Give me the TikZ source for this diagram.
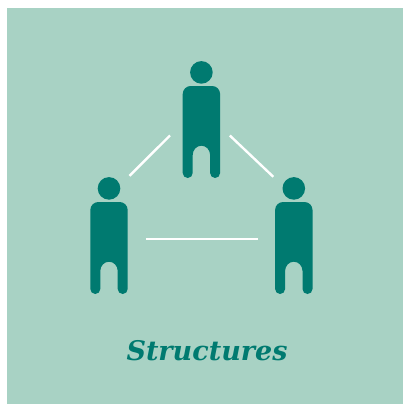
\documentclass[tikz,border=0pt]{standalone}
\usepackage{xcolor}
\usepackage{fontspec}
\setmainfont{DejaVu Serif}
\usetikzlibrary{positioning,calc}
\definecolor{panelgreen}{HTML}{a8d2c4}
\definecolor{deepteal}{HTML}{007a70}
\begin{document}
\begin{tikzpicture}[
  x=1pt, y=-1pt,
  panel/.style={fill=panelgreen, draw=none},
  link/.style={white, line width=2.4pt},
  title/.style={font=\bfseries\itshape\fontsize{27}{32}\selectfont, text=deepteal, inner sep=0pt},
  person/.pic={
    \fill[deepteal] (0,-13.6) circle (11.3);
    \fill[deepteal]
      (-18.7,8) arc[start angle=180, end angle=270, radius=8] -- (10.7,0)
      arc[start angle=270, end angle=360, radius=8] -- (18.7,87)
      arc[start angle=0, end angle=180, radius=5] -- (8.7,69)
      arc[start angle=0, end angle=-180, x radius=8.7, y radius=9.3] -- (-8.7,87)
      arc[start angle=0, end angle=180, radius=5] -- cycle;
  }
]
\useasboundingbox (0,0) rectangle (403,404);
\fill[panel] (7,8) rectangle (403,404);
\pic at (201.4,86) {person};
\pic at (109,202) {person};
\pic at (293.8,202) {person};
\coordinate (topleft) at (170,135.5);
\coordinate (left) at (129.5,175.8);
\coordinate (topright) at (229.8,135.5);
\coordinate (right) at (273.3,176.8);
\coordinate (baseleft) at (146,239);
\coordinate (baseright) at (258,239);
\draw[link] (topleft) -- (left);
\draw[link] (topright) -- (right);
\draw[link] (baseleft) -- (baseright);
\node[title] (caption) at (207,351) {Structures};
\end{tikzpicture}
\end{document}
